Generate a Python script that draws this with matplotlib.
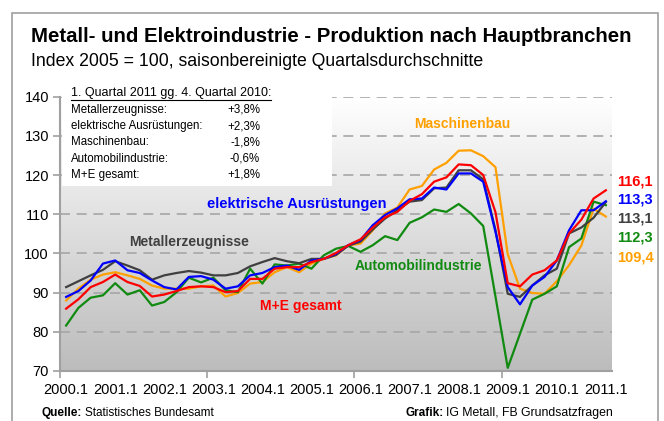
import numpy as np
import matplotlib
matplotlib.use("Agg")
import matplotlib.pyplot as plt
from matplotlib.colors import LinearSegmentedColormap
from matplotlib.patches import Rectangle
from matplotlib.lines import Line2D

plt.rcParams['font.family'] = ['Liberation Sans', 'DejaVu Sans']

# quarters 2000.1 .. 2011.1
quarters = [f"{y}.{q}" for y in range(2000, 2012) for q in range(1, 5)][:45]
year_labels = [f"{y}.1" for y in range(2000, 2012)]

metall = [91.4, 92.9, 94.4, 95.8, 98.0, 96.9, 95.7, 93.3, 94.4, 95.0, 95.5, 95.1,
          94.4, 94.4, 95.0, 96.7, 97.8, 98.8, 98.0, 97.5, 98.6, 98.6, 99.6, 102.0,
          103.0, 106.1, 108.9, 111.0, 113.2, 113.6, 116.6, 116.8, 121.2, 121.2, 118.9, 106.0,
          89.7, 88.9, 91.8, 94.4, 96.1, 105.1, 106.6, 109.1, 113.1]
elektro = [88.9, 90.4, 93.1, 97.4, 98.2, 95.7, 95.0, 93.1, 91.4, 90.8, 94.0, 94.2,
           93.3, 91.0, 91.6, 94.4, 95.0, 96.5, 96.9, 95.8, 98.2, 98.6, 99.9, 102.1,
           103.4, 107.2, 109.8, 111.5, 113.8, 114.0, 116.8, 116.3, 120.4, 120.4, 118.3, 105.5,
           91.4, 87.0, 91.8, 94.0, 98.2, 105.9, 111.0, 111.0, 113.3]
gesamt = [85.9, 88.3, 91.4, 92.7, 94.6, 92.7, 91.7, 89.0, 89.5, 90.4, 91.4, 91.6,
          91.4, 90.1, 90.4, 93.5, 93.5, 96.1, 96.5, 96.5, 97.8, 98.6, 100.1, 102.1,
          103.6, 106.6, 109.2, 110.6, 113.4, 115.1, 118.3, 119.4, 122.7, 122.5, 120.0, 110.5,
          92.4, 91.6, 94.6, 95.7, 98.2, 105.1, 108.6, 114.0, 116.1]
maschinen = [88.0, 91.0, 93.3, 94.6, 95.2, 94.4, 93.5, 91.8, 91.0, 91.0, 91.0, 91.6,
             91.8, 89.0, 89.9, 92.3, 92.7, 95.2, 96.5, 95.2, 97.4, 98.6, 99.5, 102.0,
             102.5, 105.9, 110.2, 111.7, 116.3, 117.2, 121.4, 123.1, 126.2, 126.3, 124.8, 122.0,
             99.8, 91.0, 89.9, 89.7, 92.9, 97.0, 102.0, 111.4, 109.4]
auto = [81.6, 86.1, 88.7, 89.3, 92.4, 89.5, 90.6, 86.7, 87.6, 90.1, 93.8, 92.6,
        93.8, 90.6, 90.1, 96.1, 92.3, 97.2, 96.9, 97.4, 96.1, 99.5, 101.2, 101.9,
        100.4, 102.1, 104.4, 103.4, 107.8, 109.2, 111.2, 110.6, 112.6, 110.2, 107.0, 89.0,
        70.8, 79.5, 88.2, 89.7, 91.6, 101.6, 103.8, 113.2, 112.3]

box_names = ["Metallerzeugnisse:", "elektrische Ausrüstungen:", "Maschinenbau:",
             "Automobilindustrie:", "M+E gesamt:"]
box_values = ["+3,8%", "+2,3%", "-1,8%", "-0,6%", "+1,8%"]

c_metall = '#404040'
c_elektro = '#0000ff'
c_gesamt = '#ff0000'
c_maschinen = '#ffa000'
c_auto = '#108a10'

W, H = 664, 421
fig = plt.figure(figsize=(W / 100, H / 100), dpi=100)


def fx(px):
    return px / W


def fy(py):
    return 1 - py / H


# outer frame
fig.add_artist(Rectangle((fx(12), fy(440)), fx(646), 440 / H - 13 / H, fill=False,
                         edgecolor='#a0a0a0', lw=1.2, transform=fig.transFigure))

ax = fig.add_axes([fx(60), fy(371), fx(612) - fx(60), fy(96.6) - fy(371)])
x = np.arange(len(quarters))

# gradient background
cmap = LinearSegmentedColormap.from_list('bg', ['#ffffff', '#bcbcbc'])
ax.imshow(np.linspace(0, 1, 256).reshape(-1, 1), extent=[-0.5, 44.5, 70, 140],
          aspect='auto', cmap=cmap, vmin=0, vmax=1, zorder=0)

for v in range(80, 141, 10):
    ax.axhline(v, color='#a6a6a6', lw=1.2, ls=(0, (6, 4)), zorder=0.5)

# text box (covers gridlines)
ax.add_patch(Rectangle((fx(62), fy(186)), fx(332) - fx(62), fy(86) - fy(186),
                       transform=fig.transFigure, facecolor='white', edgecolor='none',
                       zorder=1, clip_on=False))

lw = 1.6
ax.plot(x, maschinen, color=c_maschinen, lw=lw, zorder=2)
ax.plot(x, auto, color=c_auto, lw=lw, zorder=2)
ax.plot(x, metall, color=c_metall, lw=lw, zorder=2)
ax.plot(x, elektro, color=c_elektro, lw=lw, zorder=2)
ax.plot(x, gesamt, color=c_gesamt, lw=lw, zorder=2)

ax.set_xlim(-0.5, 44.5)
ax.set_ylim(70, 140)

for s in ['top', 'right']:
    ax.spines[s].set_visible(False)
for s in ['left', 'bottom']:
    ax.spines[s].set_color('#a0a0a0')
    ax.spines[s].set_linewidth(1.5)
    ax.spines[s].set_zorder(3)

ax.set_yticks(range(70, 141, 10))
ax.tick_params(axis='y', length=5, width=1.2, color='#a0a0a0', labelsize=10.5, pad=3)
ax.set_xticks([-0.5, 11.5, 23.5, 35.5])
ax.set_xticklabels([])
ax.tick_params(axis='x', which='major', length=5, width=1.2, color='#a0a0a0')
ax.set_xticks(range(0, 45, 4), minor=True)
ax.set_xticklabels(year_labels, minor=True)
ax.tick_params(axis='x', which='minor', length=0, labelsize=10.5, pad=9)

# in-chart series labels
ax.text(fx(462), fy(124), "Maschinenbau", transform=fig.transFigure, color=c_maschinen,
        fontsize=10, fontweight='bold', ha='center', va='center')
ax.text(fx(297), fy(204), "elektrische Ausrüstungen", transform=fig.transFigure,
        color=c_elektro, fontsize=10.5, fontweight='bold', ha='center', va='center')
ax.text(fx(189), fy(242), "Metallerzeugnisse", transform=fig.transFigure,
        color=c_metall, fontsize=10, fontweight='bold', ha='center', va='center')
ax.text(fx(418), fy(266), "Automobilindustrie", transform=fig.transFigure,
        color=c_auto, fontsize=10, fontweight='bold', ha='center', va='center')
ax.text(fx(301), fy(306), "M+E gesamt", transform=fig.transFigure,
        color=c_gesamt, fontsize=10, fontweight='bold', ha='center', va='center')

# end values
ends = [(gesamt[-1], c_gesamt, 181), (elektro[-1], c_elektro, 199), (metall[-1], c_metall, 219),
        (auto[-1], c_auto, 238), (maschinen[-1], c_maschinen, 257)]
for val, col, py in ends:
    fig.text(fx(617), fy(py), f"{val:.1f}".replace('.', ','), color=col, fontsize=10.5,
             fontweight='bold', ha='left', va='center')

# box text
hdr = fig.text(fx(71), fy(93), "1. Quartal 2011 gg. 4. Quartal 2010:", fontsize=9,
               ha='left', va='center')
for i, (n, v) in enumerate(zip(box_names, box_values)):
    py = 110 + i * 16.2
    fig.text(fx(71), fy(py), n, fontsize=8.3, ha='left', va='center')
    fig.text(fx(260), fy(py), v, fontsize=8.3, ha='right', va='center')

# titles
fig.text(fx(31), fy(36), "Metall- und Elektroindustrie - Produktion nach Hauptbranchen",
         fontsize=14.7, fontweight='bold', ha='left', va='center')
fig.text(fx(31), fy(61), "Index 2005 = 100, saisonbereinigte Quartalsdurchschnitte",
         fontsize=12.7, ha='left', va='center')

# footer
q = fig.text(fx(42), fy(413), "Quelle:", fontsize=8.5, fontweight='bold', ha='left', va='center')
g = fig.text(fx(405), fy(413), "Grafik:", fontsize=8.5, fontweight='bold', ha='left', va='center')

fig.canvas.draw()
r = fig.canvas.get_renderer()
qb = q.get_window_extent(r)
fig.text(fx(qb.x1 + 3), fy(413), "Statistisches Bundesamt", fontsize=8.5, ha='left', va='center')
gb = g.get_window_extent(r)
fig.text(fx(gb.x1 + 3), fy(413), "IG Metall, FB Grundsatzfragen", fontsize=8.8,
         ha='left', va='center')

# underline header
hb = hdr.get_window_extent(r)
fig.add_artist(Line2D([hb.x0 / W, hb.x1 / W], [(hb.y0 - 1) / H, (hb.y0 - 1) / H],
                      color='black', lw=0.8, transform=fig.transFigure))

fig.savefig('out.png', dpi=100)
